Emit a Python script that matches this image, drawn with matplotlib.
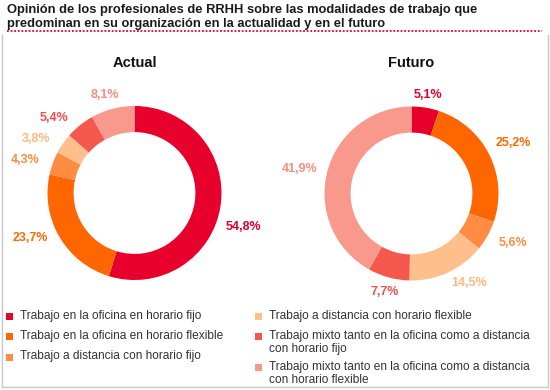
import matplotlib
matplotlib.use("Agg")
import matplotlib.pyplot as plt
from matplotlib.patches import Rectangle
from matplotlib.lines import Line2D
import numpy as np

plt.rcParams['font.family'] = ['Liberation Sans', 'DejaVu Sans']

# data
categories = [
    'Trabajo en la oficina en horario fijo',
    'Trabajo en la oficina en horario flexible',
    'Trabajo a distancia con horario fijo',
    'Trabajo a distancia con horario flexible',
    'Trabajo mixto tanto en la oficina como a distancia\ncon horario fijo',
    'Trabajo mixto tanto en la oficina como a distancia\ncon horario flexible',
]
actual = [54.8, 23.7, 4.3, 3.8, 5.4, 8.1]
futuro = [5.1, 25.2, 5.6, 14.5, 7.7, 41.9]
colors = ['#E8002D', '#FF6600', '#FF8C42', '#FFBF8C', '#F5584C', '#F8998C']
label_colors = ['#E0002D', '#FF6A00', '#FF8C42', '#FFB880', '#F0504A', '#F5907F']

# small angular nudges (deg) so labels sit where the original had them
nudge_actual = [-9, -7, 3, 6, 8, 2]
nudge_futuro = [0, 0, 3, 8, 0, 2]

W, H = 550, 390
fig = plt.figure(figsize=(W / 100, H / 100), dpi=100)


def donut(cx, cy, values, title, nudges):
    r = 87
    ax = fig.add_axes([(cx - 1.5 * r) / W, (H - cy - 1.5 * r) / H, 3 * r / W, 3 * r / H])
    wedges, _ = ax.pie(values, colors=colors, startangle=90, counterclock=False,
                       radius=1, wedgeprops=dict(width=0.3, edgecolor='none'))
    for w, v, c, n in zip(wedges, values, label_colors, nudges):
        ang = np.deg2rad((w.theta1 + w.theta2) / 2 + n)
        d = 1.12 + 0.2 * abs(np.cos(ang))
        ax.text(d * np.cos(ang), d * np.sin(ang), f'{v:.1f}%'.replace('.', ','),
                ha='center', va='center', fontsize=9, fontweight='bold', color=c)
    ax.set_xlim(-1.5, 1.5)
    ax.set_ylim(-1.5, 1.5)
    ax.set_aspect('equal')
    ax.axis('off')
    fig.text(cx / W, 1 - 63 / H, title, ha='center', va='center',
             fontsize=10.5, fontweight='bold', color='#111111')


donut(134.5, 193, actual, 'Actual', nudge_actual)
donut(411.5, 193.5, futuro, 'Futuro', nudge_futuro)

# header
fig.text(7 / W, 1 - 4 / H,
         'Opinión de los profesionales de RRHH sobre las modalidades de trabajo que\n'
         'predominan en su organización en la actualidad y en el futuro',
         ha='left', va='top', fontsize=9.3, fontweight='bold', color='#1A1A1A',
         linespacing=1.2)
fig.add_artist(Line2D([7 / W, 542 / W], [1 - 31 / H, 1 - 31 / H], color='#E4003A',
                      linestyle=(0, (1, 1)), linewidth=1.3))

# frame
frame = dict(color='#C8C8C8', linewidth=1)
fig.add_artist(Line2D([2 / W, 2 / W], [1 - 35 / H, 1 - 387 / H], **frame))
fig.add_artist(Line2D([548 / W, 548 / W], [1 - 35 / H, 1 - 387 / H], **frame))
fig.add_artist(Line2D([2 / W, 548 / W], [1 - 387 / H, 1 - 387 / H], **frame))

# legend, two columns
columns = [(6, [0, 1, 2]), (255, [3, 4, 5])]
for x0, idx in columns:
    y = 316
    for i in idx:
        fig.add_artist(Rectangle(((x0) / W, 1 - (y + 3.5) / H), 7 / W, 7 / H,
                                 facecolor=colors[i], edgecolor='none'))
        fig.text((x0 + 14) / W, 1 - (y - 6.5) / H, categories[i], ha='left', va='top',
                 fontsize=8.6, color='#333333', linespacing=1.15)
        y += categories[i].count('\n') * 10.5 + 20.5

fig.savefig('out.png', dpi=100, facecolor='white')
